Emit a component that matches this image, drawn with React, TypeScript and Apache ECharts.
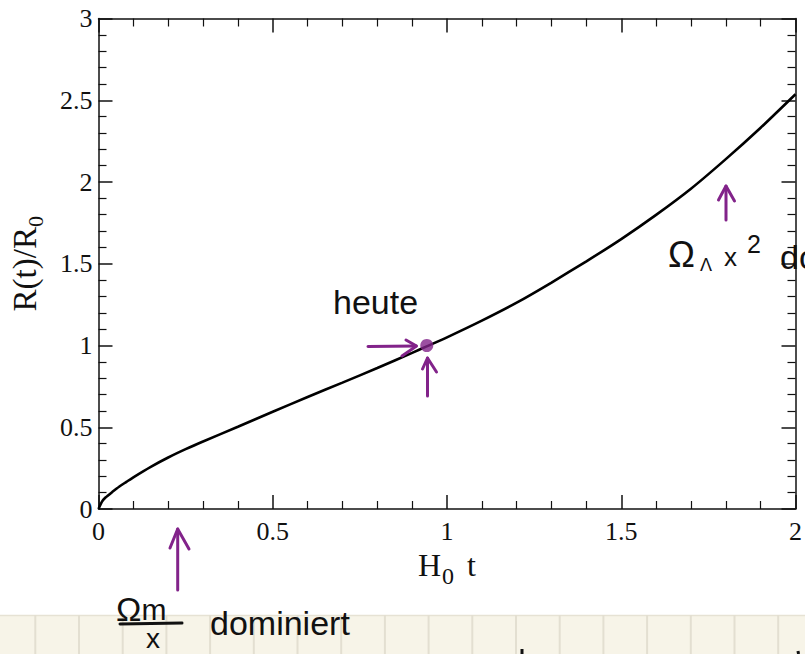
import React, { useEffect, useRef } from "react";
import * as echarts from "echarts";

// H0 t values and R(t)/R0
const hubbleTime = [0, 0.01, 0.02, 0.04, 0.06, 0.08, 0.1, 0.15, 0.2, 0.25, 0.3, 0.4, 0.5, 0.6, 0.7, 0.8, 0.9, 0.94, 1.0, 1.1, 1.2, 1.3, 1.4, 1.5, 1.6, 1.7, 1.8, 1.9, 2.0];
const scaleFactor = [0, 0.045, 0.07, 0.105, 0.138, 0.166, 0.194, 0.258, 0.315, 0.366, 0.413, 0.503, 0.595, 0.685, 0.773, 0.862, 0.955, 0.993, 1.05, 1.152, 1.262, 1.385, 1.515, 1.651, 1.799, 1.959, 2.14, 2.332, 2.537];
const todayPoint = [0.942, 1.0];

const xRange = [0, 2];
const yRange = [0, 3];
const tickStep = 0.5;

const PURPLE = "#82238a";
const SERIF = "'Liberation Serif', 'Times New Roman', serif";
const SANS = "'Liberation Sans', Arial, sans-serif";

function arrow(points: number[][]) {
  return {
    type: "polyline",
    shape: { points },
    style: { stroke: PURPLE, lineWidth: 3, fill: null, lineCap: "round", lineJoin: "round" },
    z: 10,
  };
}

export default function App() {
  const ref = useRef<HTMLDivElement>(null);
  useEffect(() => {
    if (!ref.current) return;
    const chart = echarts.init(ref.current, null, { renderer: "svg" });
    const curve = hubbleTime.map((t, i) => [t, scaleFactor[i]]);

    const axisLine = { onZero: false, lineStyle: { color: "#111", width: 1.5 } };
    const axisTick = { inside: true, length: 14, lineStyle: { color: "#111", width: 1.5 } };
    const minorTick = { show: true, splitNumber: 5, length: 8, lineStyle: { color: "#111", width: 1.2 } };
    const label = { fontFamily: SERIF, fontSize: 26, color: "#111" };

    const gridLines: any[] = [];
    for (let k = 0; k < 19; k++) {
      const x = 35.3 + k * 43.7;
      gridLines.push({
        type: "line",
        shape: { x1: x, y1: 615, x2: x, y2: 654 },
        style: { stroke: "#e3dfd1", lineWidth: 2 },
        z: 1,
      });
    }

    chart.setOption({
      animation: false,
      backgroundColor: "#ffffff",
      grid: { left: 96, right: 6, top: 18.5, bottom: 145, containLabel: false },
      xAxis: [
        {
          type: "value",
          min: xRange[0],
          max: xRange[1],
          interval: tickStep,
          position: "bottom",
          axisLine,
          axisTick,
          minorTick,
          splitLine: { show: false },
          axisLabel: { ...label, margin: 9, showMinLabel: true, showMaxLabel: true },
          name: "H{sub|0} t",
          nameLocation: "middle",
          nameGap: 32,
          nameTextStyle: {
            fontFamily: SERIF,
            fontSize: 32,
            color: "#111",
            rich: {
              sub: { fontFamily: SERIF, fontSize: 24, color: "#111", padding: [22, 5, 0, 1] },
            },
          },
        },
        {
          type: "value",
          min: xRange[0],
          max: xRange[1],
          interval: tickStep,
          position: "top",
          axisLine,
          axisTick,
          minorTick,
          splitLine: { show: false },
          axisLabel: { show: false },
        },
      ],
      yAxis: [
        {
          type: "value",
          min: yRange[0],
          max: yRange[1],
          interval: tickStep,
          position: "left",
          axisLine,
          axisTick,
          minorTick,
          splitLine: { show: false },
          axisLabel: { ...label, margin: 6, showMinLabel: true, showMaxLabel: true },
          name: "R(t)/R{sub|0}",
          nameLocation: "middle",
          nameGap: 52,
          nameRotate: 90,
          nameTextStyle: {
            fontFamily: SERIF,
            fontSize: 33,
            color: "#111",
            rich: {
              sub: { fontFamily: SERIF, fontSize: 22, color: "#111", padding: [22, 0, 0, 0] },
            },
          },
        },
        {
          type: "value",
          min: yRange[0],
          max: yRange[1],
          interval: tickStep,
          position: "right",
          axisLine,
          axisTick,
          minorTick,
          splitLine: { show: false },
          axisLabel: { show: false },
        },
      ],
      series: [
        {
          type: "line",
          data: curve,
          smooth: 0.2,
          showSymbol: false,
          lineStyle: { color: "#000", width: 2.6 },
          xAxisIndex: 0,
          yAxisIndex: 0,
          z: 3,
        },
        {
          type: "scatter",
          data: [todayPoint],
          symbolSize: 13,
          itemStyle: { color: PURPLE },
          xAxisIndex: 0,
          yAxisIndex: 0,
          z: 5,
        },
      ],
      graphic: [
        { type: "rect", shape: { x: 0, y: 615, width: 805, height: 39 }, style: { fill: "#f7f4e8" }, z: 0 },
        { type: "line", shape: { x1: 0, y1: 615.5, x2: 805, y2: 615.5 }, style: { stroke: "#e6e2d4", lineWidth: 1.5 }, z: 1 },
        ...gridLines,
        // "heute" annotation
        { type: "text", x: 333, y: 285, style: { text: "heute", font: `34px ${SANS}`, fill: "#111" }, z: 10 },
        arrow([[368, 346.5], [416, 346]]),
        arrow([[406, 340], [416.5, 346], [402, 356]]),
        arrow([[427.5, 396], [427.5, 358]]),
        arrow([[422.5, 369], [427.5, 358], [436.5, 372]]),
        // bottom-left annotation
        arrow([[177.7, 590], [177.7, 529]]),
        arrow([[170, 548], [177.7, 529], [189, 549]]),
        {
          type: "text",
          x: 116,
          y: 609,
          style: {
            text: "Ω{m|m}",
            font: `34px ${SANS}`,
            fill: "#111",
            verticalAlign: "middle",
            rich: { m: { font: `30px ${SANS}`, fill: "#111" } },
          },
          z: 10,
        },
        { type: "line", shape: { x1: 120, y1: 624, x2: 182, y2: 623 }, style: { stroke: "#111", lineWidth: 3, lineCap: "round" }, z: 10 },
        { type: "text", x: 146, y: 638, style: { text: "x", font: `28px ${SANS}`, fill: "#111", verticalAlign: "middle" }, z: 10 },
        { type: "text", x: 210, y: 606, style: { text: "dominiert", font: `34px ${SANS}`, fill: "#111" }, z: 10 },
        // top-right annotation
        arrow([[726, 220], [726, 186]]),
        arrow([[718.5, 200], [726, 186], [734.5, 201]]),
        { type: "text", x: 668, y: 236, style: { text: "Ω", font: `36px ${SANS}`, fill: "#111" }, z: 10 },
        { type: "text", x: 700, y: 256, style: { text: "Λ", font: `18px ${SANS}`, fill: "#111" }, z: 10 },
        { type: "text", x: 724, y: 244, style: { text: "x", font: `26px ${SANS}`, fill: "#111" }, z: 10 },
        { type: "text", x: 747, y: 231, style: { text: "2", font: `25px ${SANS}`, fill: "#111" }, z: 10 },
        { type: "text", x: 780, y: 240, style: { text: "do", font: `34px ${SANS}`, fill: "#111" }, z: 10 },
        // tiny pen marks at the bottom edge
        { type: "line", shape: { x1: 522, y1: 649, x2: 522, y2: 654 }, style: { stroke: "#111", lineWidth: 3 }, z: 10 },
        { type: "line", shape: { x1: 798, y1: 651, x2: 798.5, y2: 654 }, style: { stroke: "#111", lineWidth: 3 }, z: 10 },
      ],
    });
    return () => chart.dispose();
  }, []);

  return (
    <div
      ref={ref}
      style={{ position: "absolute", left: 0, top: 0, width: 805, height: 654 }}
    />
  );
}
